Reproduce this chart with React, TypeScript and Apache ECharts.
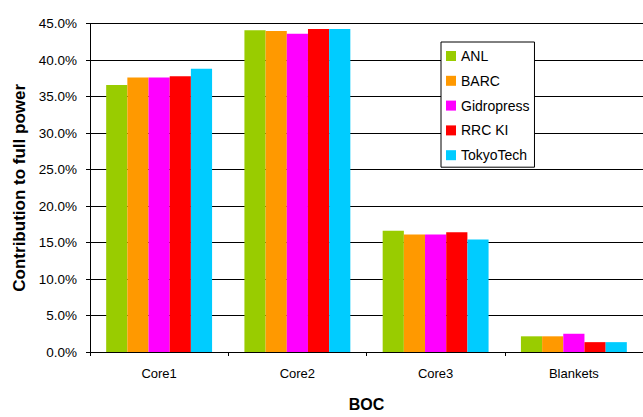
import React, { useEffect, useRef } from "react";
import * as echarts from "echarts";

const categories = ["Core1", "Core2", "Core3", "Blankets"];
const seriesNames = ["ANL", "BARC", "Gidropress", "RRC KI", "TokyoTech"];
const anl = [36.6, 44.1, 16.6, 2.15];
const barc = [37.6, 44.0, 16.1, 2.15];
const gidropress = [37.6, 43.6, 16.1, 2.5];
const rrcKi = [37.8, 44.25, 16.4, 1.35];
const tokyoTech = [38.8, 44.25, 15.4, 1.35];
const seriesValues = [anl, barc, gidropress, rrcKi, tokyoTech];
const colors = ["#99CC00", "#FF9900", "#FF00FF", "#FF0000", "#00CCFF"];

const FONT = "Liberation Sans, Arial, sans-serif";

export default function App() {
  const ref = useRef<HTMLDivElement>(null);
  useEffect(() => {
    document.body.style.margin = "0";
    const chart = echarts.init(ref.current!, null, { renderer: "svg" });
    chart.setOption({
      animation: false,
      backgroundColor: "#fff",
      textStyle: { fontFamily: FONT },
      grid: { left: 90, right: -11, top: 23.6, bottom: 56.5, containLabel: false },
      legend: {
        orient: "vertical",
        left: 441,
        top: 42,
        padding: [7, 5, 5, 5],
        itemGap: 10.8,
        itemWidth: 10,
        itemHeight: 10,
        icon: "rect",
        backgroundColor: "#fff",
        borderColor: "#000",
        borderWidth: 1,
        textStyle: { fontSize: 14, color: "#000", fontFamily: FONT },
        data: seriesNames,
      },
      xAxis: {
        type: "category",
        data: categories,
        name: "BOC",
        nameLocation: "middle",
        nameGap: 44,
        nameTextStyle: { fontSize: 16, fontWeight: "bold", color: "#000", fontFamily: FONT },
        axisLine: { lineStyle: { color: "#000", width: 1 } },
        axisTick: { show: true, length: 4, lineStyle: { color: "#000" } },
        axisLabel: { fontSize: 13, color: "#000", margin: 15, fontFamily: FONT },
        splitLine: { show: false },
      },
      yAxis: {
        type: "value",
        min: 0,
        max: 45,
        interval: 5,
        name: "Contribution to full power",
        nameLocation: "middle",
        nameGap: 61,
        nameTextStyle: { fontSize: 17, fontWeight: "bold", color: "#000", fontFamily: FONT },
        axisLine: { show: true, lineStyle: { color: "#000", width: 1 } },
        axisTick: { show: true, length: 4, lineStyle: { color: "#000" } },
        axisLabel: {
          fontSize: 13.5,
          color: "#000",
          margin: 13,
          fontFamily: FONT,
          formatter: (v: number) => v.toFixed(1) + "%",
        },
        splitLine: { show: true, lineStyle: { color: "#000", width: 1 } },
      },
      series: seriesNames.map((name, i) => ({
        name,
        type: "bar",
        data: seriesValues[i],
        barGap: "0%",
        barCategoryGap: "23.4%",
        itemStyle: { color: colors[i] },
      })),
    });
    return () => chart.dispose();
  }, []);
  return <div ref={ref} style={{ width: 643, height: 417 }} />;
}
